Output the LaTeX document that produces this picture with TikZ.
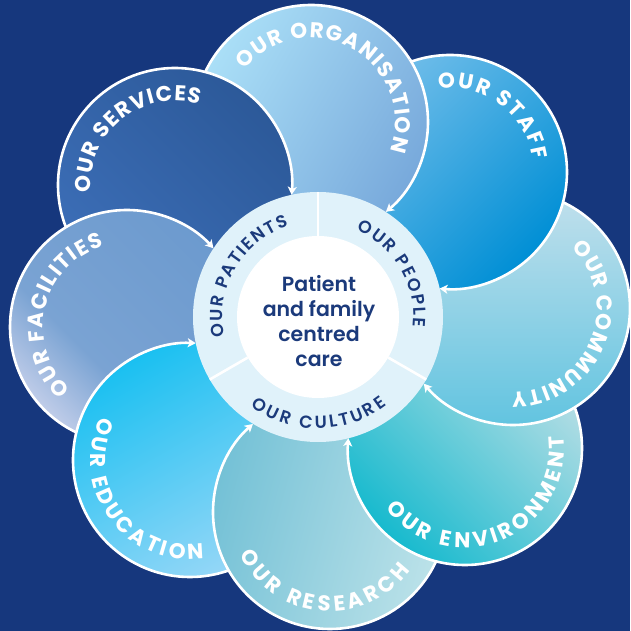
\documentclass[tikz,border=0pt]{standalone}
\usepackage{fontspec}
\setmainfont{Poppins}
\newfontface\pbold{Poppins Bold}
\newfontface\psemi{Poppins SemiBold}
\usetikzlibrary{decorations.text,arrows.meta}
\definecolor{bg}{HTML}{16377D}
\definecolor{navy}{HTML}{1B3A7B}
\definecolor{ringc}{HTML}{E0F2FA}
\definecolor{orgA}{HTML}{AADFF7}
\definecolor{orgB}{HTML}{78A9DB}
\definecolor{facL}{HTML}{C4CFEA}
\definecolor{facM}{HTML}{7AA3D3}
\definecolor{facD}{HTML}{6394CB}
\pgfdeclarehorizontalshading{facshade}{100bp}{color(0bp)=(facL); color(24bp)=(facL); color(40bp)=(facM); color(100bp)=(facD)}
\begin{document}
\begin{tikzpicture}[x=1pt,y=1pt,
  outl/.style={white, line width=2.6pt},
  arr/.style={-{Stealth[length=8pt,width=9pt,inset=2pt]}},
  ptxt/.style={decorate, decoration={text along path, text align={fit to path}, text color=white, text={|\pbold\fontsize{21.5}{21.5}\selectfont|#1}}},
  rtxt/.style={decorate, decoration={text along path, text align={fit to path}, text color=navy, text={|\psemi\fontsize{17.5}{17.5}\selectfont|#1}}},
  orgsh/.style={top color=orgA, bottom color=orgB, shading angle=60},
  servsh/.style={top color={rgb,255:red,44;green,89;blue,153}, bottom color={rgb,255:red,60;green,110;blue,183}, shading angle=-45},
]
% background and frame
\fill[bg] (-318,-314) rectangle (312,317);
\useasboundingbox (-318,-314) rectangle (312,317);
% petal centres
\coordinate (org) at (-7,195);
\coordinate (staff) at (132,145);
\coordinate (comm) at (195,9);
\coordinate (env) at (147,-131);
\coordinate (res) at (12,-195);
\coordinate (edu) at (-128,-143);
\coordinate (fac) at (-191,-10);
\coordinate (serv) at (-143,132);
% organisation (first pass)
\shade[orgsh] (org) circle[radius=117];
\draw[outl,arr] (org) ++(234.4:117) arc[start angle=234.4, end angle=-50.2, radius=117];
% services
\shade[servsh] (serv) circle[radius=117];
\draw[outl,arr] (serv) ++(279.4:117) arc[start angle=279.4, end angle=-4.8, radius=117];
% facilities
\shade[shading=facshade, shading angle=45] (fac) circle[radius=117];
\draw[outl,arr] (fac) ++(323.7:117) arc[start angle=323.7, end angle=42.3, radius=117];
% education
\shade[top color={rgb,255:red,26;green,192;blue,241}, bottom color={rgb,255:red,150;green,215;blue,247}, shading angle=30] (edu) circle[radius=117];
\draw[outl,arr] (edu) ++(9.2:117) arc[start angle=9.2, end angle=-272.8, radius=117];
% research
\shade[top color={rgb,255:red,188;green,226;blue,233}, bottom color={rgb,255:red,116;green,193;blue,214}, shading angle=-105] (res) circle[radius=117];
\draw[outl,arr] (res) ++(55.8:117) arc[start angle=55.8, end angle=-228.8, radius=117];
% environment
\shade[top color={rgb,255:red,184;green,222;blue,229}, middle color={rgb,255:red,76;green,196;blue,212}, bottom color={rgb,255:red,23;green,186;blue,206}, shading angle=-45] (env) circle[radius=117];
\draw[outl,arr] (env) ++(101.4:117) arc[start angle=101.4, end angle=-184.8, radius=117];
% community
\shade[top color={rgb,255:red,194;green,224;blue,236}, bottom color={rgb,255:red,98;green,196;blue,224}, shading angle=0] (comm) circle[radius=117];
\draw[outl,arr] (comm) ++(144.9:117) arc[start angle=144.9, end angle=-139.7, radius=117];
% staff
\shade[top color={rgb,255:red,114;green,190;blue,234}, middle color={rgb,255:red,18;green,163;blue,221}, bottom color={rgb,255:red,0;green,143;blue,213}, shading angle=45] (staff) circle[radius=117];
\draw[outl,arr] (staff) ++(190.4:117) arc[start angle=190.4, end angle=-95.1, radius=117];
% organisation again, over staff
\begin{scope}
  \clip (staff) circle[radius=119.5];
  \shade[orgsh] (org) circle[radius=117];
  \draw[outl,arr] (org) ++(234.4:117) arc[start angle=234.4, end angle=-50.2, radius=117];
\end{scope}
% petal texts
\path[ptxt={OUR ORGANISATION}] (org) ++(141.5:84) arc[start angle=141.5, end angle=-20, radius=84];
\path[ptxt={OUR STAFF}] (staff) ++(98:84) arc[start angle=98, end angle=8, radius=84];
\path[ptxt={OUR COMMUNITY}] (comm) ++(46:84) arc[start angle=46, end angle=-91, radius=84];
\path[ptxt={OUR ENVIRONMENT}] (env) ++(217:99.5) arc[start angle=217, end angle=367, radius=99.5];
\path[ptxt={OUR RESEARCH}] (res) ++(205:99.5) arc[start angle=205, end angle=324, radius=99.5];
\path[ptxt={OUR EDUCATION}] (edu) ++(154:99.5) arc[start angle=154, end angle=278, radius=99.5];
\path[ptxt={OUR FACILITIES}] (fac) ++(228:84) arc[start angle=228, end angle=106, radius=84];
\path[ptxt={OUR SERVICES}] (serv) ++(185:84) arc[start angle=185, end angle=73, radius=84];
% central ring
\coordinate (c) at (0,0);
\fill[ringc] (c) circle[radius=125];
\fill[white] (c) circle[radius=81];
\foreach \a in {90,-30,210} \draw[white, line width=2.6pt] (c) ++(\a:81) -- ++(\a:44);
\path[rtxt={OUR PATIENTS}] (c) ++(192:95.5) arc[start angle=192, end angle=108, radius=95.5];
\path[rtxt={OUR PEOPLE}] (c) ++(66:95.5) arc[start angle=66, end angle=-6, radius=95.5];
\path[rtxt={OUR CULTURE}] (c) ++(233:111.5) arc[start angle=233, end angle=308, radius=111.5];
\node[align=center, text=navy, font=\psemi\fontsize{20.5}{25}\selectfont] (ctext) at (1,-4.5) {Patient\\and family\\centred\\care};
\end{tikzpicture}
\end{document}
